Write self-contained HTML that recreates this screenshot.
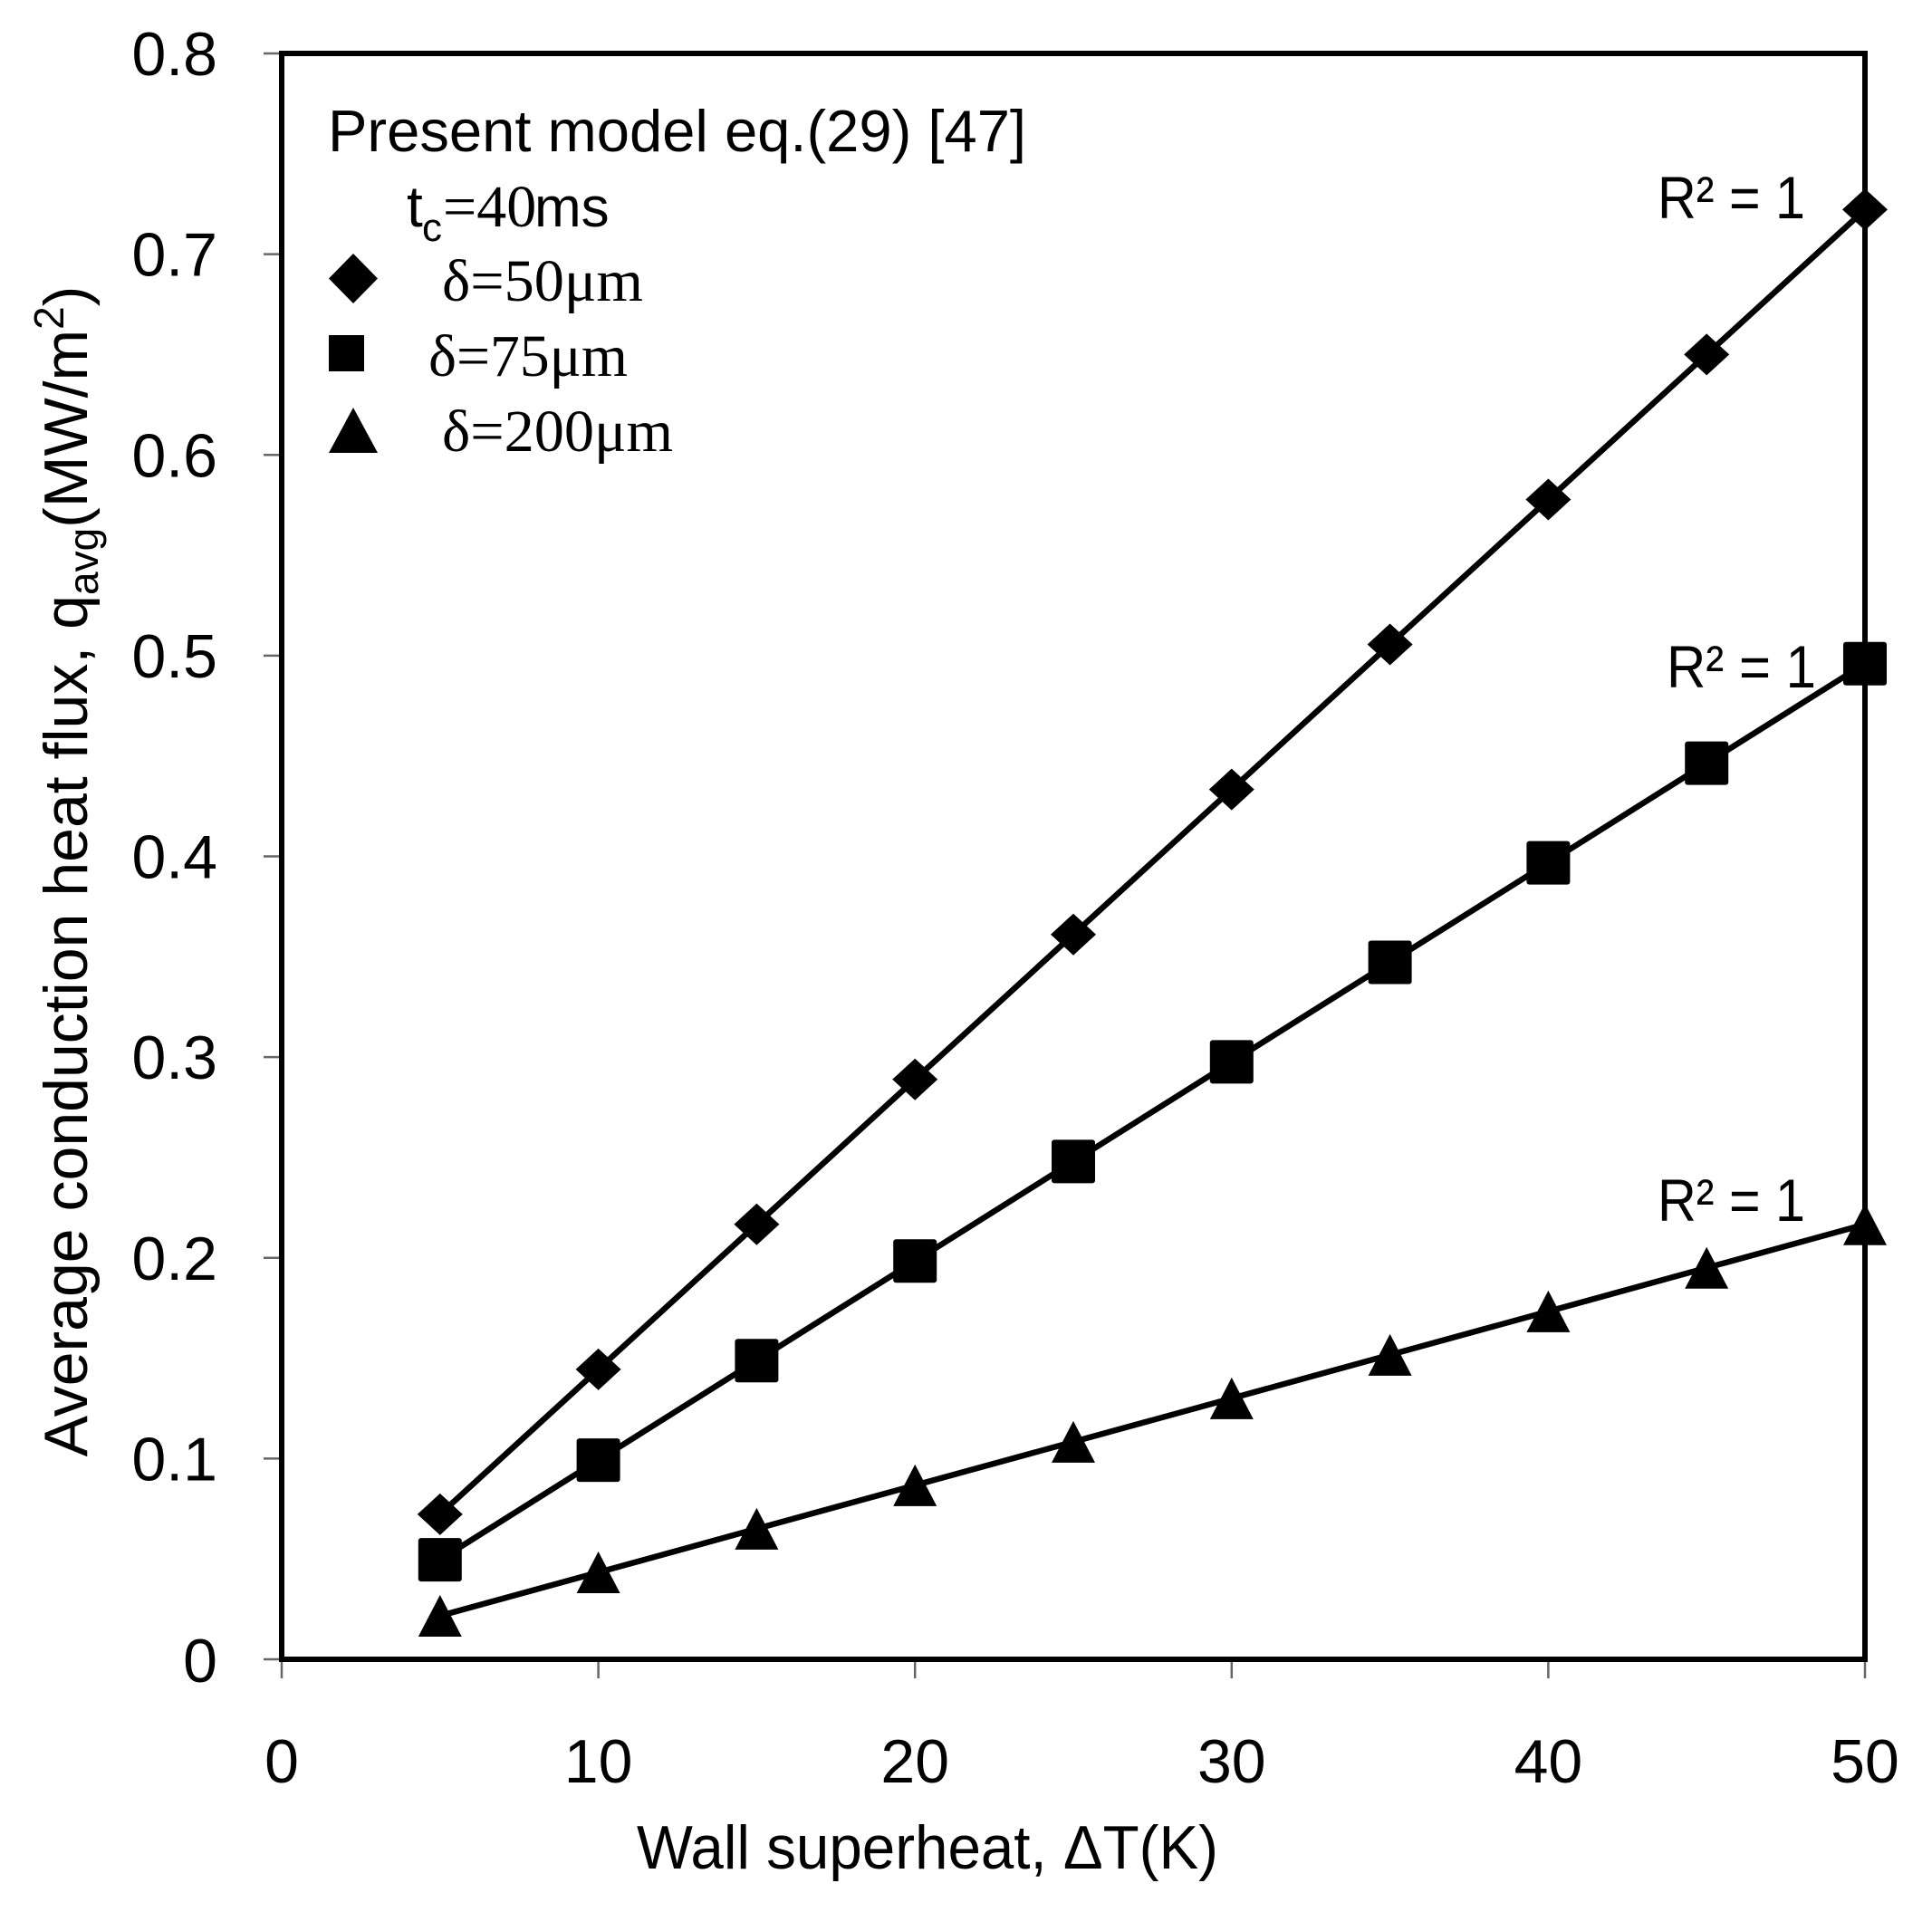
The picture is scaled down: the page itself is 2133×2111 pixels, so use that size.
<!DOCTYPE html>
<html>
<head>
<meta charset="utf-8">
<style>
  html, body { margin: 0; padding: 0; background: #ffffff; }
  svg { display: block; }
  text { fill: #000; }
  .sans { font-family: "Liberation Sans", Arial, sans-serif; }
  .serif { font-family: "Liberation Serif", "Times New Roman", serif; }
</style>
</head>
<body>
<svg width="2133" height="2111" viewBox="0 0 2133 2111" xmlns="http://www.w3.org/2000/svg">
  <rect x="0" y="0" width="2133" height="2111" fill="#ffffff"/>

  <!-- ticks -->
  <g stroke="#666" stroke-width="2.5">
    <line x1="291" y1="59" x2="311" y2="59"/>
    <line x1="291" y1="280.6" x2="311" y2="280.6"/>
    <line x1="291" y1="502.3" x2="311" y2="502.3"/>
    <line x1="291" y1="723.9" x2="311" y2="723.9"/>
    <line x1="291" y1="945.5" x2="311" y2="945.5"/>
    <line x1="291" y1="1167.1" x2="311" y2="1167.1"/>
    <line x1="291" y1="1388.8" x2="311" y2="1388.8"/>
    <line x1="291" y1="1610.4" x2="311" y2="1610.4"/>
    <line x1="291" y1="1832" x2="311" y2="1832"/>
    <line x1="311" y1="1832" x2="311" y2="1853"/>
    <line x1="660.6" y1="1832" x2="660.6" y2="1853"/>
    <line x1="1010.2" y1="1832" x2="1010.2" y2="1853"/>
    <line x1="1359.8" y1="1832" x2="1359.8" y2="1853"/>
    <line x1="1709.4" y1="1832" x2="1709.4" y2="1853"/>
    <line x1="2059" y1="1832" x2="2059" y2="1853"/>
  </g>

  <!-- plot frame -->
  <rect x="311" y="59" width="1748" height="1773" fill="none" stroke="#000" stroke-width="6"/>

  <!-- y tick labels -->
  <g class="sans" font-size="68" text-anchor="end">
    <text x="240" y="83">0.8</text>
    <text x="240" y="304.6">0.7</text>
    <text x="240" y="526.3">0.6</text>
    <text x="240" y="747.9">0.5</text>
    <text x="240" y="969.5">0.4</text>
    <text x="240" y="1191.1">0.3</text>
    <text x="240" y="1412.8">0.2</text>
    <text x="240" y="1634.4">0.1</text>
    <text x="240" y="1857">0</text>
  </g>

  <!-- x tick labels -->
  <g class="sans" font-size="68" text-anchor="middle">
    <text x="311" y="1968">0</text>
    <text x="660.6" y="1968">10</text>
    <text x="1010.2" y="1968">20</text>
    <text x="1359.8" y="1968">30</text>
    <text x="1709.4" y="1968">40</text>
    <text x="2059" y="1968">50</text>
  </g>

  <!-- axis titles -->
  <text class="sans" x="703" y="2063" font-size="68" textLength="642" lengthAdjust="spacingAndGlyphs">Wall superheat, ΔT(K)</text>

  <text class="sans" transform="translate(96,962) rotate(-90)" text-anchor="middle" font-size="68">Average conduction heat flux, q<tspan font-size="46" dy="12">avg</tspan><tspan dy="-12">(MW/m</tspan><tspan font-size="46" dy="-26">2</tspan><tspan dy="26">)</tspan></text>

  <!-- series lines -->
  <g fill="none" stroke="#000" stroke-width="6.5" stroke-linejoin="round">
    <polyline points="485.8,1671.9 660.6,1511.9 835.4,1351.8 1010.2,1191.7 1185,1031.7 1359.8,871.6 1534.6,711.5 1709.4,551.5 1884.2,391.4 2059,231.4"/>
    <polyline points="485.8,1722.1 660.6,1612.1 835.4,1502.2 1010.2,1392.3 1185,1282.4 1359.8,1172.4 1534.6,1062.5 1709.4,952.6 1884.2,842.6 2059,732.7"/>
    <polyline points="485.8,1784.0 660.6,1736.0 835.4,1687.9 1010.2,1639.9 1185,1591.9 1359.8,1543.9 1534.6,1495.9 1709.4,1447.9 1884.2,1399.8 2059,1351.8"/>
  </g>

  <defs>
    <path id="dia" d="M0,-23 L25,0 L0,23 L-25,0 Z"/>
    <rect id="sq" x="-24" y="-24" width="48" height="48" rx="3"/>
    <path id="tri" d="M0,-23 L24,23 L-24,23 Z"/>
  </defs>

  <!-- diamond markers -->
  <g fill="#000">
    <use href="#dia" x="485.8" y="1671.9"/>
    <use href="#dia" x="660.6" y="1511.9"/>
    <use href="#dia" x="835.4" y="1351.8"/>
    <use href="#dia" x="1010.2" y="1191.7"/>
    <use href="#dia" x="1185" y="1031.7"/>
    <use href="#dia" x="1359.8" y="871.6"/>
    <use href="#dia" x="1534.6" y="711.5"/>
    <use href="#dia" x="1709.4" y="551.5"/>
    <use href="#dia" x="1884.2" y="391.4"/>
    <use href="#dia" x="2059" y="231.4"/>
  </g>
  <!-- square markers -->
  <g fill="#000">
    <use href="#sq" x="485.8" y="1722.1"/>
    <use href="#sq" x="660.6" y="1612.1"/>
    <use href="#sq" x="835.4" y="1502.2"/>
    <use href="#sq" x="1010.2" y="1392.3"/>
    <use href="#sq" x="1185" y="1282.4"/>
    <use href="#sq" x="1359.8" y="1172.4"/>
    <use href="#sq" x="1534.6" y="1062.5"/>
    <use href="#sq" x="1709.4" y="952.6"/>
    <use href="#sq" x="1884.2" y="842.6"/>
    <use href="#sq" x="2059" y="732.7"/>
  </g>
  <!-- triangle markers -->
  <g fill="#000">
    <use href="#tri" x="485.8" y="1784.0"/>
    <use href="#tri" x="660.6" y="1736.0"/>
    <use href="#tri" x="835.4" y="1687.9"/>
    <use href="#tri" x="1010.2" y="1639.9"/>
    <use href="#tri" x="1185" y="1591.9"/>
    <use href="#tri" x="1359.8" y="1543.9"/>
    <use href="#tri" x="1534.6" y="1495.9"/>
    <use href="#tri" x="1709.4" y="1447.9"/>
    <use href="#tri" x="1884.2" y="1399.8"/>
    <use href="#tri" x="2059" y="1351.8"/>
  </g>

  <!-- R² labels -->
  <g class="sans" font-size="66">
    <text x="1830" y="241" textLength="163" lengthAdjust="spacingAndGlyphs">R² = 1</text>
    <text x="1840" y="759" textLength="165" lengthAdjust="spacingAndGlyphs">R² = 1</text>
    <text x="1830" y="1348" textLength="163" lengthAdjust="spacingAndGlyphs">R² = 1</text>
  </g>

  <!-- legend -->
  <text class="sans" x="362" y="167" font-size="65" textLength="771" lengthAdjust="spacingAndGlyphs">Present model eq.(29) [47]</text>

  <text x="450" y="250" font-size="64"><tspan class="sans" x="449" font-size="64">t</tspan><tspan class="sans" x="466" y="266" font-size="44">c</tspan><tspan class="serif" x="489" y="250" font-size="66">=40</tspan><tspan class="sans" x="590" y="250" font-size="62">ms</tspan></text>

  <path d="M390,280 L417,307.5 L390,335 L363,307.5 Z" fill="#000"/>
  <rect x="363" y="370" width="39" height="40" fill="#000"/>
  <path d="M390,450 L417,500 L363,500 Z" fill="#000"/>

  <g class="serif" font-size="66">
    <text x="488" y="332" textLength="222" lengthAdjust="spacingAndGlyphs">δ=50μm</text>
    <text x="473" y="415" textLength="220" lengthAdjust="spacingAndGlyphs">δ=75μm</text>
    <text x="488" y="498" textLength="255" lengthAdjust="spacingAndGlyphs">δ=200μm</text>
  </g>
</svg>
</body>
</html>
